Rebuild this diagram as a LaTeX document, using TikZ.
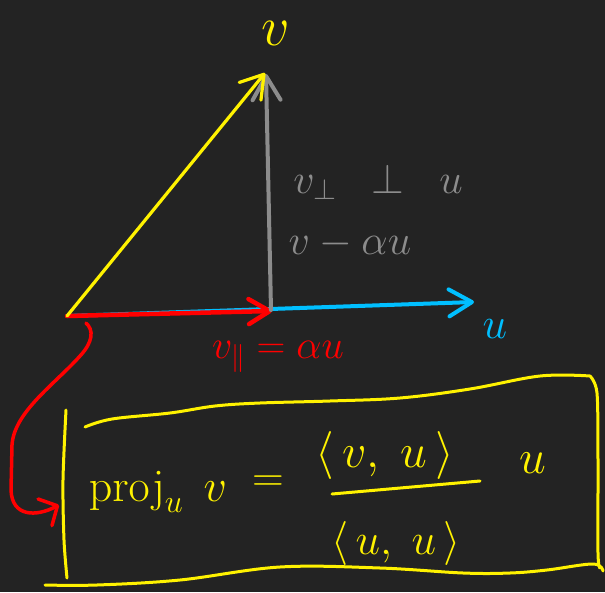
\documentclass[tikz,border=0pt]{standalone}
\usepackage{fix-cm}
\usepackage{amsmath}
\usetikzlibrary{arrows.meta}
\definecolor{bg}{HTML}{232323}
\definecolor{penyellow}{HTML}{FFF200}
\definecolor{pensky}{HTML}{00BFFF}
\definecolor{penred}{HTML}{FF0000}
\definecolor{pengray}{HTML}{8C8C8C}
\tikzset{
  stroke/.style={line width=#1, line cap=round, line join=round},
  barb/.style 2 args={-{Straight Barb[length=#1pt,width=#2pt,round]}},
  lbl/.style={inner sep=0pt, font=\fontsize{#1}{#1}\selectfont},
}
\begin{document}
\begin{tikzpicture}[x=1pt,y=-1pt]
\fill[bg] (0,0) rectangle (605,592);
\useasboundingbox (0,0) rectangle (605,592);

% key points
\coordinate (O) at (67,316);
\coordinate (vtip) at (265,73);
\coordinate (foot) at (271,310);
\coordinate (perptip) at (266,74);
\coordinate (utip) at (474,302);
\coordinate (partip) at (272,311);
\coordinate (hook) at (86,323);
\coordinate (boxin) at (59,505);

% vectors
\draw[stroke=4pt, pensky, barb={23}{27}] (O) -- (utip);
\draw[stroke=4.5pt, penred, barb={21}{25}] (O) -- (partip);
\draw[stroke=4pt, pengray, barb={24}{28}] (foot) -- (perptip);
\draw[stroke=3.2pt, penyellow, barb={22}{28}] (O) -- (vtip);

% labels
\node[lbl=56, text=penyellow] (vlab) at (276,33) {$v$};
\node[lbl=44, text=pensky] (ulab) at (495,329) {$u$};
\node[lbl=42, text=pengray] (perp) at (378,182) {$v_{\perp}\;\;\perp\;\; u$};
\node[lbl=42, text=pengray] (diff) at (350,244) {$v-\alpha u$};
\node[lbl=40, text=penred] (par) at (278,357) {$v_{\parallel}=\alpha u$};

% red link to the box
\draw[stroke=3.5pt, penred, barb={14}{30}] (hook)
  .. controls (94,330) and (93,342) .. (80,356)
  .. controls (55,384) and (14,412) .. (12,445)
  -- (11,490)
  .. controls (12,517) and (36,517) .. (boxin);

% hand-drawn box
\draw[stroke=3pt, penyellow] plot[smooth] coordinates {(66,410) (63,480) (64,540) (67,578)};
\draw[stroke=3pt, penyellow] plot[smooth, tension=0.6] coordinates {(85,427) (112,419) (170,413) (215,406) (260,403) (330,401) (400,398) (470,389) (540,376) (590,376)}
  -- plot[smooth] coordinates {(590,376) (597,393) (598,460) (598,553) (600,568)};
\draw[stroke=3pt, penyellow] plot[smooth, tension=0.6] coordinates {(45,585) (97,585) (180,580) (280,567) (380,568) (463,573) (510,573) (547,570) (593,564) (603,571)};

% formula
\node[lbl=46, text=penyellow] (proj) at (158,492) {$\mathrm{proj}_{u}\;\,v$};
\node[lbl=44, text=penyellow] (eq) at (268,484) {$=$};
\node[lbl=48, text=penyellow] (num) at (385,455) {$\langle\, v,\; u\,\rangle$};
\node[lbl=44, text=penyellow] (den) at (396,543) {$\langle\, u,\; u\,\rangle$};
\coordinate (barL) at (332,494);
\coordinate (barR) at (480,481);
\draw[stroke=3pt, penyellow] (barL) -- (barR);
\node[lbl=48, text=penyellow] (utail) at (533,463) {$u$};
\end{tikzpicture}
\end{document}
